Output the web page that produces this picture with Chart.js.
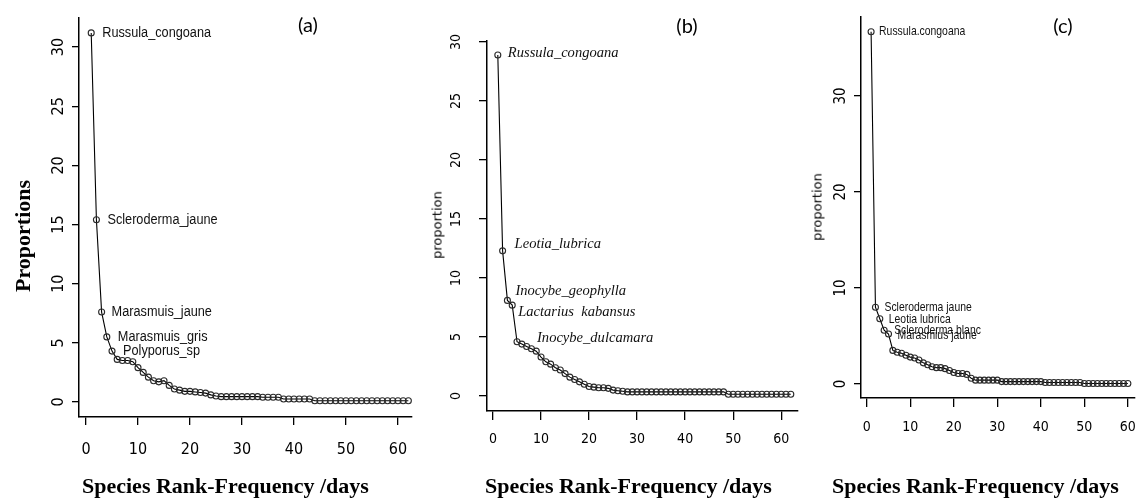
<!DOCTYPE html>
<html>
<head>
<meta charset="utf-8">
<script src="https://cdn.jsdelivr.net/npm/chart.js@4.4.0/dist/chart.umd.min.js"></script>
<style>
  body { margin: 0; background: #fff; width: 1148px; height: 498px; overflow: hidden; position: relative; }
  canvas { position: absolute; left: 0; top: 0; }
  .txt { position: absolute; white-space: nowrap; color: #000; line-height: 1; }
  .panel { font-family: Lato, "Open Sans", sans-serif; font-size: 20px; transform: translate(-50%, -50%); }
  .xtitle { font-family: "Liberation Serif", "Times New Roman", serif; font-weight: bold; font-size: 22px; transform: translateY(-50%); }
  .ytitle { transform: translate(-50%, -50%) rotate(-90deg); }
</style>
</head>
<body>
<canvas id="chartA" width="1148" height="498"></canvas>
<canvas id="chartB" width="1148" height="498"></canvas>
<canvas id="chartC" width="1148" height="498"></canvas>

<div class="txt panel" style="left:308px; top:24px;">(a)</div>
<div class="txt panel" style="left:687px; top:25px;">(b)</div>
<div class="txt panel" style="left:1063px; top:25px;">(c)</div>

<div class="txt ytitle" style="left:23px; top:236px; font-family:'Liberation Serif',serif; font-weight:bold; font-size:22px;">Proportions</div>
<div class="txt ytitle" style="left:437px; top:225px; font-family:'DejaVu Sans',sans-serif; font-size:13px;">proportion</div>
<div class="txt ytitle" style="left:817px; top:207px; font-family:'DejaVu Sans',sans-serif; font-size:13px;">proportion</div>

<div class="txt xtitle" style="left:82px; top:486px;">Species Rank-Frequency /days</div>
<div class="txt xtitle" style="left:485px; top:486px;">Species Rank-Frequency /days</div>
<div class="txt xtitle" style="left:832px; top:486px;">Species Rank-Frequency /days</div>

<script>
// species proportions by rank
const proportionsA = [
    31.2, 15.4, 7.6, 5.5, 4.3, 3.6, 3.5, 3.5, 3.4, 2.9,
    2.5, 2.1, 1.8, 1.7, 1.8, 1.4, 1.1, 1.0, 0.9, 0.9,
    0.85, 0.8, 0.75, 0.6, 0.5, 0.45, 0.45, 0.45, 0.45, 0.45,
    0.45, 0.45, 0.45, 0.4, 0.4, 0.4, 0.4, 0.25, 0.25, 0.25,
    0.25, 0.25, 0.25, 0.1, 0.1, 0.1, 0.1, 0.1, 0.1, 0.1,
    0.1, 0.1, 0.1, 0.1, 0.1, 0.1, 0.1, 0.1, 0.1, 0.1,
    0.1, 0.1
];
const proportionsB = [
    28.9, 12.3, 8.1, 7.7, 4.6, 4.4, 4.2, 4.0, 3.8, 3.3,
    2.9, 2.7, 2.4, 2.2, 1.9, 1.6, 1.4, 1.2, 1.0, 0.8,
    0.75, 0.7, 0.7, 0.65, 0.5, 0.45, 0.4, 0.35, 0.35, 0.35,
    0.35, 0.35, 0.35, 0.35, 0.35, 0.35, 0.35, 0.35, 0.35, 0.35,
    0.35, 0.35, 0.35, 0.35, 0.35, 0.35, 0.35, 0.35, 0.15, 0.15,
    0.15, 0.15, 0.15, 0.15, 0.15, 0.15, 0.15, 0.15, 0.15, 0.15,
    0.15, 0.15
];
const proportionsC = [
    36.7, 8.0, 6.8, 5.6, 5.2, 3.5, 3.3, 3.2, 3.0, 2.8,
    2.7, 2.5, 2.2, 2.0, 1.8, 1.7, 1.7, 1.6, 1.4, 1.2,
    1.1, 1.1, 1.0, 0.6, 0.4, 0.4, 0.4, 0.4, 0.4, 0.4,
    0.25, 0.25, 0.25, 0.25, 0.25, 0.25, 0.25, 0.25, 0.25, 0.25,
    0.15, 0.15, 0.15, 0.15, 0.15, 0.15, 0.15, 0.15, 0.15, 0.05,
    0.05, 0.05, 0.05, 0.05, 0.05, 0.05, 0.05, 0.05, 0.05, 0.05
];

// labelled species (ranks 1 to 5 in each panel)
const speciesA = ['Russula_congoana', 'Scleroderma_jaune', 'Marasmuis_jaune', 'Marasmuis_gris', 'Polyporus_sp'];
const speciesB = ['Russula_congoana', 'Leotia_lubrica', 'Inocybe_geophylla', 'Lactarius  kabansus', 'Inocybe_dulcamara'];
const speciesC = ['Russula.congoana', 'Scleroderma jaune', 'Leotia lubrica', 'Scleroderma blanc', 'Marasmius jaune'];

const xTicks = [0, 10, 20, 30, 40, 50, 60];
const yTicksAB = [0, 5, 10, 15, 20, 25, 30];
const yTicksC = [0, 10, 20, 30];

const NARROW = '"Liberation Sans Narrow", "Arial Narrow", "DejaVu Sans Condensed", sans-serif';

function buildPanel(id, values, species, yTicks, o) {
    const points = values.map((v, i) => ({ x: i + 1, y: v }));
    const W = 1148, H = 498, yW = 40, xH = 60;

    // species names written next to their points (squeezed to look like a narrow face)
    const labelPlugin = {
        id: 'speciesLabels',
        afterDatasetsDraw(chart) {
            const ctx = chart.ctx;
            const meta = chart.getDatasetMeta(0);
            ctx.save();
            ctx.font = o.labelFont;
            ctx.fillStyle = '#111';
            ctx.textAlign = 'left';
            ctx.textBaseline = 'middle';
            species.forEach((name, i) => {
                const pt = meta.data[i];
                ctx.save();
                ctx.translate(pt.x + o.offsets[i][0], pt.y + o.offsets[i][1]);
                ctx.scale(o.labelSquash, 1);
                ctx.fillText(name, 0, 0);
                ctx.restore();
            });
            ctx.restore();
        }
    };

    new Chart(document.getElementById(id), {
        type: 'line',
        data: {
            datasets: [{
                data: points,
                borderColor: '#000',
                borderWidth: 1.1,
                pointRadius: 3,
                pointBorderWidth: 1.1,
                pointBorderColor: '#2a2a2a',
                pointBackgroundColor: 'rgba(0,0,0,0)',
                tension: 0
            }]
        },
        options: {
            responsive: false,
            animation: false,
            events: [],
            layout: {
                padding: {
                    left: o.area.left - yW,
                    top: o.area.top,
                    right: W - o.area.right,
                    bottom: H - o.area.bottom - xH
                }
            },
            plugins: { legend: { display: false }, tooltip: { enabled: false } },
            scales: {
                x: {
                    type: 'linear',
                    min: o.xMin,
                    max: o.xMax,
                    afterBuildTicks: s => { s.ticks = xTicks.map(v => ({ value: v })); },
                    afterFit: s => { s.height = xH; },
                    grid: { drawOnChartArea: false, drawTicks: true, tickLength: o.xTickLen, color: '#000', lineWidth: 1.3 },
                    border: { display: true, color: '#000', width: 1.5 },
                    ticks: { autoSkip: false, maxRotation: 0, color: '#000', padding: o.xPad, font: { family: NARROW, size: o.xFont } }
                },
                y: {
                    min: o.yMin,
                    max: o.yMax,
                    afterBuildTicks: s => { s.ticks = yTicks.map(v => ({ value: v })); },
                    afterFit: s => { s.width = yW; },
                    grid: { drawOnChartArea: false, drawTicks: true, tickLength: o.yTickLen, color: '#000', lineWidth: 1.3 },
                    border: { display: true, color: '#000', width: 1.5 },
                    ticks: { autoSkip: false, minRotation: 90, maxRotation: 90, crossAlign: 'center', color: '#000', padding: o.yPad, font: { family: NARROW, size: o.yFont } }
                }
            }
        },
        plugins: [labelPlugin]
    });
}

buildPanel('chartA', proportionsA, speciesA, yTicksAB, {
    area: { left: 79, top: 18, right: 412, bottom: 417 },
    xMin: -1.35, xMax: 62.7, yMin: -1.27, yMax: 32.46,
    xTickLen: 8, yTickLen: 7, xPad: 15, yPad: 4, xFont: 16, yFont: 16,
    labelFont: '15.5px "Liberation Sans", Arial, sans-serif', labelSquash: 0.82,
    offsets: [[11, 0], [11, 0], [10, 0], [11, 0], [11, 0]]
});

buildPanel('chartB', proportionsB, speciesB, yTicksAB, {
    area: { left: 487, top: 41, right: 798, bottom: 411 },
    xMin: -1.25, xMax: 63.5, yMin: -1.27, yMax: 30.08,
    xTickLen: 9, yTickLen: 8, xPad: 11, yPad: 15, xFont: 14, yFont: 14,
    labelFont: 'italic 15px "Liberation Serif", "Times New Roman", serif', labelSquash: 0.97,
    offsets: [[10, -2], [12, -7], [8, -9], [6, 7], [20, -4]]
});

buildPanel('chartC', proportionsC, speciesC, yTicksC, {
    area: { left: 861, top: 17, right: 1147, bottom: 398 },
    xMin: -1.32, xMax: 61.5, yMin: -1.46, yMax: 38.23,
    xTickLen: 9, yTickLen: 7, xPad: 12, yPad: 4, xFont: 14, yFont: 15,
    labelFont: '13px "Liberation Sans", Arial, sans-serif', labelSquash: 0.8,
    offsets: [[8, 0], [9, 0], [9, 1], [10, 0], [9, 1]]
});
</script>
</body>
</html>
